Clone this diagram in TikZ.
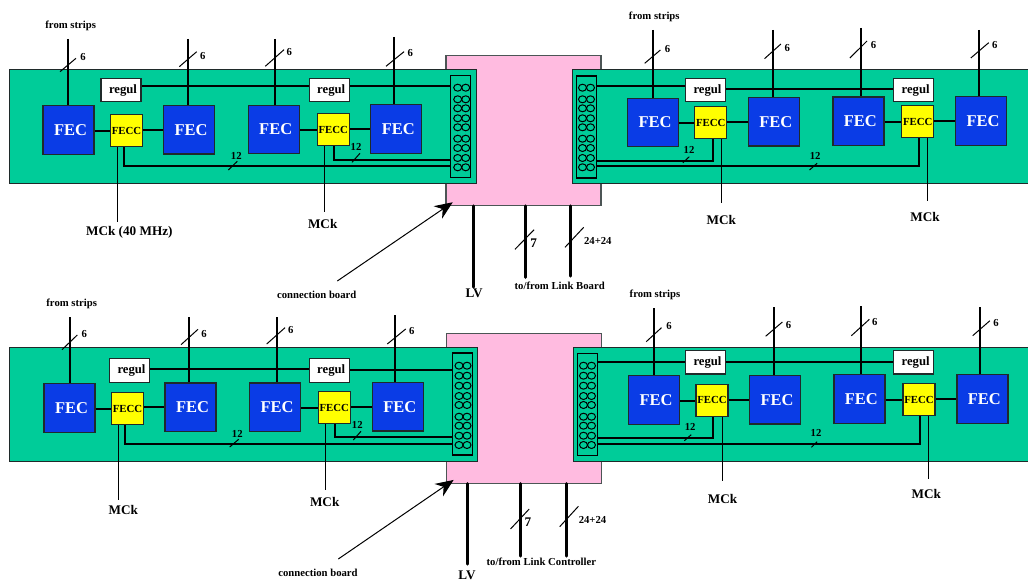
\documentclass[tikz,border=0pt]{standalone}
\usepackage{fontspec}
\setmainfont{Liberation Serif}
\usepackage{xcolor}
\usepackage{tikz}
\usetikzlibrary{arrows.meta, shapes.geometric}
\definecolor{ink}{HTML}{1F2A2A}
\definecolor{bandgreen}{HTML}{00CC99}
\definecolor{fecblue}{HTML}{0A3CE6}
\definecolor{boardpink}{HTML}{FFBBE0}
\definecolor{feccyellow}{HTML}{FFFF00}

\begin{document}
\begin{tikzpicture}[
    x=1pt, y=-1pt,
    board/.style={draw=ink!80, line width=1.1pt, fill=boardpink, inner sep=0pt,
                  minimum width=155pt, minimum height=150pt},
    band/.style={draw=ink, line width=1.1pt, fill=bandgreen, inner sep=0pt,
                 minimum height=114pt},
    conn/.style={draw=black, line width=1.1pt, fill=bandgreen, inner sep=0pt,
                 minimum width=20pt, minimum height=102pt},
    pin/.style={draw=black, line width=1pt, ellipse, inner sep=0pt,
                minimum width=8pt, minimum height=7pt},
    fec/.style={draw=ink, line width=1.2pt, fill=fecblue, text=white, inner sep=0pt,
                minimum width=51pt, minimum height=48.5pt,
                font=\fontsize{16.5}{18}\bfseries\selectfont,
                execute at begin node=\hspace{4pt}},
    fecc/.style={draw=ink, line width=1.2pt, fill=feccyellow, inner sep=0pt,
                 minimum width=32pt, minimum height=32pt,
                 font=\fontsize{10.8}{12}\bfseries\selectfont},
    regul/.style={draw=ink, line width=1.2pt, fill=white, inner sep=0pt,
                  minimum width=40pt, minimum height=23.4pt,
                  font=\fontsize{12.7}{14}\bfseries\selectfont,
                  execute at begin node=\hspace{4pt}},
    lab/.style={inner sep=0pt, font=\fontsize{10.7}{12}\bfseries\selectfont},
    big/.style={inner sep=0pt, font=\fontsize{13.2}{15}\bfseries\selectfont},
    bus/.style={draw=black, line width=2pt},
    power/.style={draw=black, line width=3.4pt, line cap=round},
    clk/.style={draw=black, line width=0.9pt},
    tick/.style={draw=black, line width=1pt},
    arr/.style={-{Stealth[length=18pt, width=15pt]}, draw=black, line width=1pt}]

  \useasboundingbox (0,0) rectangle (1028,580);

  \node[board] (upboard) at (523.5,130.5) {};
  \node[board] (lowboard) at (524.4,408.2) {};
  \node[band, minimum width=467pt] (tlband) at (243.1,126.9) {};
  \node[band, minimum width=460pt] (trband) at (802.3,126.9) {};
  \node[band, minimum width=468pt] (blband) at (243.9,404.7) {};
  \node[band, minimum width=459pt] (brband) at (802.9,404.7) {};

  \node[conn] (tlc) at (460.7,126.5) {};
  \node[conn] (trc) at (586.7,127) {};
  \node[conn] (blc) at (462.3,404) {};
  \node[conn] (brc) at (587.9,404.8) {};

  \foreach \y [count=\i] in {87.7,99.3,108.3,118.3,127.3,138.7,148,158,167.3} {
    \node[pin] (tlp\i a) at (457.7,\y) {};
    \node[pin] (tlp\i b) at (465.7,\y) {};
    \node[pin] (trp\i a) at (582.5,\y) {};
    \node[pin] (trp\i b) at (590.5,\y) {};
  }
  \foreach \y [count=\i] in {365.7,375.7,385.7,396,405,416.7,425.7,435.7,445} {
    \node[pin] (blp\i a) at (459,\y) {};
    \node[pin] (blp\i b) at (467,\y) {};
    \node[pin] (brp\i a) at (583.5,\y) {};
    \node[pin] (brp\i b) at (591.5,\y) {};
  }

  \foreach \nm/\x/\y in {tls1/68.3/39, tls2/188.3/39, tls3/275.3/39, tls4/394.3/37,
                         trs1/652.7/30, trs2/772.5/30, trs3/860.6/28, trs4/978.8/30,
                         bls1/69.7/317, bls2/189.3/317, bls3/277.3/317, bls4/395/315,
                         brs1/654.3/308, brs2/773.6/307, brs3/861.3/306, brs4/980/307,
                         tlk1/117/221.7, tlk2/324.7/212.3,
                         trk1/721.4/203.3, trk2/927/201.3,
                         blk1/118.3/499.7, blk2/325.7/490,
                         brk1/722.9/481.3, brk2/928.1/478.7,
                         ulv/473.5/287, uda/525.3/277.3, ulk/570.7/276,
                         dlv/467.4/564, dda/520.4/556, dlk/566.2/556,
                         upfoot/337.3/281, lowfoot/338.3/559}
    \coordinate (\nm) at (\x,\y);

  \foreach \nm/\x/\y in {tlf1/68.5/130, tlf2/189/129.7, tlf3/273.7/129.4, tlf4/396.3/129,
                         trf1/653/122.4, trf2/773.8/121.7, trf3/858.4/121.3, trf4/981.1/121,
                         blf1/69.5/408, blf2/190.5/407.3, blf3/275/407.3, blf4/397.8/406.7,
                         brf1/654/400, brf2/775/399.7, brf3/859.4/399, brf4/982.4/399}
    \node[fec] (\nm) at (\x,\y) {FEC};

  \foreach \nm/\x/\y in {tlg1/126.5/130.7, tlg2/333.2/129.7,
                         trg1/710.8/122.9, trg2/917.8/121.5,
                         blg1/127.5/408.5, blg2/334.3/407.7,
                         brg1/712/400.3, brg2/919/399.7}
    \node[fecc] (\nm) at (\x,\y) {FECC};

  \foreach \nm/\x/\y in {tlr1/121/90, tlr2/329.2/90,
                         trr1/705.5/90, trr2/913.6/90,
                         blr1/129.5/370.5, blr2/329.2/370.5,
                         brr1/705.5/362.3, brr2/913.6/362.3}
    \node[regul] (\nm) at (\x,\y) {regul};

  \foreach \p in {tl,tr,bl,br} {
    \draw[bus] (\p s1) -- (\p s1 |- \p f1.north);
    \draw[bus] (\p s2) -- (\p s2 |- \p f2.north);
    \draw[bus] (\p s3) -- (\p s3 |- \p f3.north);
    \draw[bus] (\p s4) -- (\p s4 |- \p f4.north);
    \draw[bus] ([yshift=-1pt]\p f1.east) -- ([yshift=-1pt]\p f1.east -| \p g1.west);
    \draw[bus] (\p f2.west -| \p g1.east) -- (\p f2.west);
    \draw[bus] ([yshift=-1pt]\p f3.east) -- ([yshift=-1pt]\p f3.east -| \p g2.west);
    \draw[bus] (\p f4.west -| \p g2.east) -- (\p f4.west);
    \draw[clk] (\p k1 |- \p g1.south) -- (\p k1);
    \draw[clk] (\p k2 |- \p g2.south) -- (\p k2);
  }

  \draw[bus] ([yshift=3.7pt]tlr1.east) -- ([yshift=3.7pt]tlr2.west);
  \draw[bus] ([yshift=3.7pt]tlr2.east) -- ([yshift=3.7pt]tlr2.east -| tlc.west);
  \draw[bus] ([yshift=3.7pt]trr1.west) -- ([yshift=3.7pt]trr1.west -| trc.east);
  \draw[bus] ([yshift=1pt]trr1.east) -- ([yshift=1pt]trr2.west);
  \draw[bus] ([yshift=1.8pt]blr1.east) -- ([yshift=1.8pt]blr2.west);
  \draw[bus] ([yshift=.5pt]blr2.east) -- ([yshift=.5pt]blr2.east -| blc.west);
  \draw[bus] (brr1.west) -- (brr1.west -| brc.east);
  \draw[bus] (brr1.east) -- (brr2.west);

  \draw[bus] ([xshift=-2.5pt]tlg1.south) |- ([yshift=-39.8pt]tlc.west);
  \draw[bus] ([xshift=.8pt]tlg2.south) |- ([yshift=-33.5pt]tlc.west);
  \draw[bus] ([xshift=2.2pt]trg1.south) |- ([yshift=-34pt]trc.east);
  \draw[bus] ([xshift=1.2pt]trg2.south) |- ([yshift=-39.3pt]trc.east);
  \draw[bus] ([xshift=-2.2pt]blg1.south) |- ([yshift=-39.7pt]blc.west);
  \draw[bus] ([xshift=.7pt]blg2.south) |- ([yshift=-33pt]blc.west);
  \draw[bus] ([xshift=1.4pt]brg1.south) |- ([yshift=-32.9pt]brc.east);
  \draw[bus] ([xshift=.7pt]brg2.south) |- ([yshift=-39.5pt]brc.east);

  \draw[power] (ulv |- upboard.south) -- (ulv);
  \draw[power] (uda |- upboard.south) -- (uda);
  \draw[power] (ulk |- upboard.south) -- (ulk);
  \draw[power] (dlv |- lowboard.south) -- (dlv);
  \draw[power] (dda |- lowboard.south) -- (dda);
  \draw[power] (dlk |- lowboard.south) -- (dlk);

  \draw[arr] (upfoot) -- ([shift={(7.3pt,3.8pt)}]upboard.south west);
  \draw[arr] (lowfoot) -- ([shift={(7.3pt,3.8pt)}]lowboard.south west);

  \foreach \xa/\ya/\xb/\yb in {60/71.7/76/58.3, 179.3/66.7/196.7/51.7, 265.3/66.3/284/49.7,
                               386/66.3/404/51.7, 644.7/63.3/660.4/50, 764.5/58.7/780.9/44,
                               849.9/58/867/41, 970.8/58/988.7/42.7,
                               62/349.7/77.3/335, 181/344.7/198/329.3, 266.7/344/285/327.7,
                               387.3/344/405.7/329, 646.2/341.7/661.5/327.7,
                               765.6/336.3/782.4/322, 851.4/335.7/869.4/319.3,
                               972.7/335.7/989.9/320.7,
                               228.3/170/237.3/161.3, 352/162.3/360/153.3,
                               682.9/162.7/689.3/156.7, 809.5/170/817.1/163.3,
                               229.7/447/238.7/439.3, 353.3/440/361/431.3,
                               684.4/440.7/691.2/434.7, 811.4/447.3/817.1/441.7,
                               515/249.3/534.1/229.7, 565/247.3/583.7/227.3,
                               510.5/529/529.2/509, 559.7/526.7/578.4/506.3}
    \draw[tick] (\xa,\ya) -- (\xb,\yb);

  \foreach \x/\y [count=\i] in {83/56.7, 202.7/56.3, 289.3/52.3, 410.3/53.3,
                                667.6/48.7, 787.4/47.7, 873.5/44.7, 994.8/45.3,
                                84.3/334.3, 204/334.3, 290.7/330.3, 411.7/331.3,
                                669.1/326.3, 788.5/325.3, 874.7/322.3, 996/323.3}
    \node[lab] (six\i) at (\x,\y) {6};

  \foreach \x/\y [count=\i] in {236.3/156.3, 356/147.3, 689/149.7, 815.2/156.3,
                                237.3/434.3, 357.3/425.3, 690.1/427.3, 816/433.3}
    \node[lab] (twelve\i) at (\x,\y) {12};

  \foreach \x/\y [count=\i] in {70.7/25.7, 654.3/16.7, 71.7/303.7, 655/294.7}
    \node[lab] (strips\i) at (\x,\y) {from strips};

  \foreach \x/\y [count=\i] in {322.7/223.7, 721.4/220.3, 925/216.7,
                                123.3/510.3, 324.7/501.7, 722.5/498.7, 926.2/494.3}
    \node[big] (mck\i) at (\x,\y) {MCk};
  \node[big] (mckfirst) at (129.3,232.7) {MCk (40 MHz)};

  \node[big] (lvup) at (474.2,293.7) {LV};
  \node[big] (lvlow) at (467,574.8) {LV};
  \node[big] (sevenup) at (533.7,242.7) {7};
  \node[big] (sevenlow) at (528,522.3) {7};
  \node[lab] (sumup) at (597.8,240.7) {24+24};
  \node[lab] (sumlow) at (592.5,520.3) {24+24};
  \node[lab] (linkb) at (559.7,285.7) {to/from Link Board};
  \node[lab] (linkc) at (541.4,561.7) {to/from Link Controller};
  \node[lab] (connup) at (316.7,294.7) {connection board};
  \node[lab] (connlow) at (318,572.7) {connection board};
\end{tikzpicture}
\end{document}
